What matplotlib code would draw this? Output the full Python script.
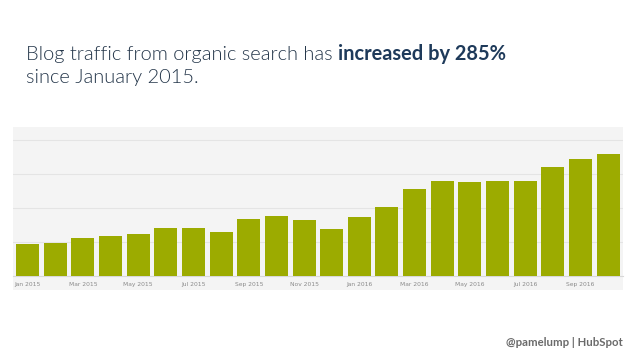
import matplotlib
matplotlib.use('Agg')
from matplotlib import pyplot as plt
from matplotlib.patches import Rectangle

# monthly organic blog traffic (relative units, one gridline = 10)
months = ["Jan 2015", "Feb 2015", "Mar 2015", "Apr 2015", "May 2015", "Jun 2015",
          "Jul 2015", "Aug 2015", "Sep 2015", "Oct 2015", "Nov 2015", "Dec 2015",
          "Jan 2016", "Feb 2016", "Mar 2016", "Apr 2016", "May 2016", "Jun 2016",
          "Jul 2016", "Aug 2016", "Sep 2016", "Oct 2016"]
traffic = [9.4, 9.8, 11.3, 11.8, 12.4, 14.1, 14.1, 13.0, 16.7, 17.7, 16.5, 13.7,
           17.4, 20.4, 25.7, 28.0, 27.6, 28.0, 28.0, 31.9, 34.4, 36.0]

title_plain = "Blog traffic from organic search has "
title_bold = "increased by 285%"
title_line2 = "since January 2015."
footer = "@pamelump | HubSpot"

W, H = 638, 359
fig = plt.figure(figsize=(W / 100, H / 100), dpi=100)
fig.patch.set_facecolor("white")

# gray panel behind the chart
fig.patches.append(Rectangle((13 / W, 1 - 290 / H), 610 / W, 163 / H,
                             transform=fig.transFigure, facecolor="#f4f4f4",
                             edgecolor="none", zorder=-5))

ax = fig.add_axes([13 / W, 1 - 276 / H, 610 / W, 149 / H])
ax.set_zorder(2)
ax.patch.set_alpha(0)
x = list(range(len(months)))
ax.bar(x, traffic, width=0.83, color="#9cab00", zorder=3)
ax.set_xlim(-0.53, len(months) - 0.46)
ax.set_ylim(0, 43.8)
ax.set_yticks([10, 20, 30, 40])
ax.yaxis.grid(True, color="#e4e4e4", linewidth=0.8, zorder=1)
ax.set_yticklabels([])
ax.tick_params(axis="y", length=0)
ax.set_xticks(x[::2])
ax.set_xticklabels(months[::2], fontsize=4.3, color="#8a8a8a")
ax.tick_params(axis="x", length=0, pad=4)
for s in ["top", "right", "left"]:
    ax.spines[s].set_visible(False)
ax.spines["bottom"].set_color("#d8d8d8")
ax.spines["bottom"].set_linewidth(0.8)

# headline, light part then bold part on same baseline
fs = 14.4
t1 = fig.text(26 / W, 1 - 60 / H, title_plain, fontsize=fs, family="Lato",
              fontweight=300, color="#24364a", va="baseline")
fig.canvas.draw()
bb = t1.get_window_extent(renderer=fig.canvas.get_renderer())
fig.text(bb.x1 / W, 1 - 60 / H, title_bold, fontsize=fs, family="Lato",
         fontweight="bold", color="#1e3a5a", va="baseline")
fig.text(26 / W, 1 - 83 / H, title_line2, fontsize=fs, family="Lato",
         fontweight=300, color="#24364a", va="baseline")

fig.text(623 / W, 1 - 346 / H, footer, fontsize=8.2, family="Lato",
         fontweight="bold", color="#6a6a6a", ha="right", va="baseline")

plt.savefig("out.png", dpi=100)
